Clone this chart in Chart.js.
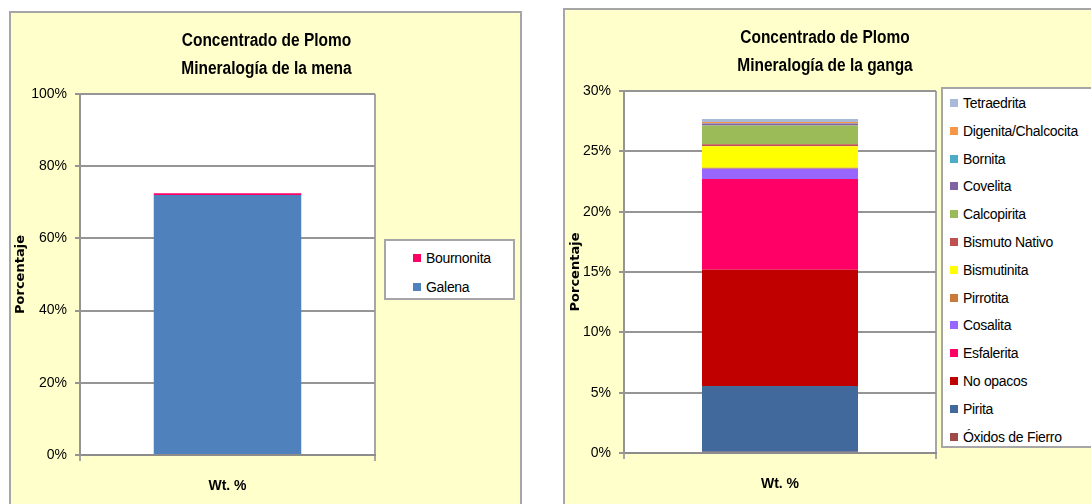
<!DOCTYPE html>
<html>
<head>
<meta charset="utf-8">
<script src="https://cdn.jsdelivr.net/npm/chart.js@4.4.1/dist/chart.umd.min.js"></script>
<style>
  body { margin: 0; background: #fff; width: 1091px; height: 504px; overflow: hidden; position: relative;
         font-family: "Liberation Sans", Arial, sans-serif; }
  .box { position: absolute; background: #ffffcc; border: 2px solid #a6a6a6; box-sizing: border-box; }
  .box canvas { position: absolute; left: 0; top: 0; }
  .title { position: absolute; font-weight: bold; font-size: 18px; text-align: center; line-height: 28px; color: #000;
           transform: scaleX(0.86); transform-origin: center top; }
  .legend { position: absolute; background: #fff; border: 2px solid #a6a6a6; box-sizing: border-box; }
  .legend .item { position: absolute; font-size: 14px; color: #000; white-space: nowrap; line-height: 16px; letter-spacing: -0.3px; }
  .legend .sw { position: absolute; width: 8px; height: 8px; top: 4px; left: -13px; }
</style>
</head>
<body>
<div class="box" id="boxMena" style="left:9px; top:11px; width:513px; height:500px;">
  <canvas id="mena" width="513" height="493"></canvas>
  <div class="title" style="left:0; width:511px; top:13px;">Concentrado de Plomo<br>Mineralogía de la mena</div>
</div>
<div class="box" id="boxGanga" style="left:563px; top:8px; width:540px; height:510px;">
  <canvas id="ganga" width="528" height="496"></canvas>
  <div class="title" style="left:0; width:520px; top:13px;">Concentrado de Plomo<br>Mineralogía de la ganga</div>
</div>
<script>
// mena (left chart)
const menaNames = [ 'Galena', 'Bournonita' ];
const menaValues = [ 72.0, 0.5 ];
const menaColors = [ '#4f81bd', '#ff0066' ];
const menaTicks = [ 0, 20, 40, 60, 80, 100 ];

// ganga (right chart), bottom of the stack first
const gangaNames = [ 'Óxidos de Fierro', 'Pirita', 'No opacos', 'Esfalerita', 'Cosalita', 'Pirrotita',
  'Bismutinita', 'Bismuto  Nativo', 'Calcopirita', 'Covelita', 'Bornita', 'Digenita/Chalcocita', 'Tetraedrita' ];
const gangaValues = [ 0.1, 5.45, 9.64, 7.51, 0.85, 0.08, 1.79, 0.17, 1.55, 0.16, 0.02, 0.11, 0.25 ];
const gangaColors = [ '#9e4a46', '#41699c', '#c00000', '#ff0066', '#9966ff', '#cc7a3a',
  '#ffff00', '#c0504d', '#9bbb59', '#8064a2', '#4bacc6', '#f79646', '#a9bad8' ];
const gangaTicks = [ 0, 5, 10, 15, 20, 25, 30 ];

const category = [ 'Wt. %' ];
Chart.defaults.font.family = '"Liberation Sans", Arial, sans-serif';
Chart.defaults.color = '#000';

const plotBg = {
  id: 'plotBg',
  beforeDraw( chart ) {
    const a = chart.chartArea;
    const ctx = chart.ctx;
    ctx.save();
    ctx.fillStyle = '#fff';
    ctx.fillRect( a.left, a.top, a.right - a.left, a.bottom - a.top );
    ctx.restore();
  }
};

const setupChart = ( canvas, names, values, colors, ticks, box ) => {
  const datasets = names.map( ( name, i ) => ( {
    label: name,
    data: [ values[ i ] ],
    backgroundColor: colors[ i ],
    borderWidth: 0,
    barPercentage: 0.5,
    categoryPercentage: 1,
  } ) );

  new Chart( canvas.getContext( '2d' ), {
    type: 'bar',
    data: { labels: category, datasets: datasets },
    plugins: [ plotBg ],
    options: {
      responsive: false,
      animation: false,
      layout: { padding: { left: 0, top: box.top, right: box.right, bottom: 0 } },
      plugins: { legend: { display: false }, title: { display: false }, tooltip: { enabled: false } },
      scales: {
        x: {
          stacked: true,
          afterFit: ( s ) => { s.height = box.xHeight; },
          grid: { offset: true, color: '#a6a6a6', lineWidth: 2, tickLength: 6 },
          border: { display: true, color: '#8c8c8c', width: 2 },
          ticks: { padding: 17, font: { size: 14, weight: 'bold' } },
        },
        y: {
          stacked: true,
          min: ticks[ 0 ],
          max: ticks[ ticks.length - 1 ],
          afterFit: ( s ) => { s.width = box.yWidth; },
          afterBuildTicks: ( s ) => { s.ticks = ticks.map( v => ( { value: v } ) ); },
          grid: { color: '#959595', lineWidth: 2, tickLength: 5 },
          border: { display: true, color: '#959595', width: 2 },
          ticks: { padding: 8, font: { size: 14 }, callback: v => v + '%' },
          title: {
            display: true,
            text: 'Porcentaje',
            font: { size: 13, weight: 'bold', family: '"DejaVu Sans", sans-serif' },
            padding: { top: box.titlePad, bottom: 0 },
          },
        }
      }
    },
  } );
};

const buildLegend = ( parent, names, colors, pos ) => {
  const el = document.createElement( 'div' );
  el.className = 'legend';
  el.style.left = pos.left + 'px';
  el.style.top = pos.top + 'px';
  el.style.width = pos.width + 'px';
  el.style.height = pos.height + 'px';
  for ( let k = 0; k < names.length; k++ ) {
    const i = names.length - 1 - k;
    const item = document.createElement( 'div' );
    item.className = 'item';
    item.style.left = pos.textX + 'px';
    item.style.top = ( pos.firstY + k * pos.step - 8 ) + 'px';
    item.innerHTML = '<span class="sw" style="background:' + colors[ i ] + '"></span>';
    item.appendChild( document.createTextNode( names[ i ] ) );
    el.appendChild( item );
  }
  parent.appendChild( el );
};

setupChart( document.getElementById( 'mena' ), menaNames, menaValues, menaColors, menaTicks,
  { top: 81, right: 149, xHeight: 51, yWidth: 69, titlePad: 2 } );
setupChart( document.getElementById( 'ganga' ), gangaNames, gangaValues, gangaColors, gangaTicks,
  { top: 81, right: 157, xHeight: 53, yWidth: 59, titlePad: 3 } );

// positions inside each box (box origin minus its 2px border)
buildLegend( document.getElementById( 'boxMena' ), menaNames, menaColors,
  { left: 373, top: 226, width: 131, height: 61, textX: 40, firstY: 17, step: 29 } );
buildLegend( document.getElementById( 'boxGanga' ), gangaNames, gangaColors,
  { left: 376, top: 77, width: 170, height: 361, textX: 20, firstY: 14, step: 27.8 } );
</script>
</body>
</html>
